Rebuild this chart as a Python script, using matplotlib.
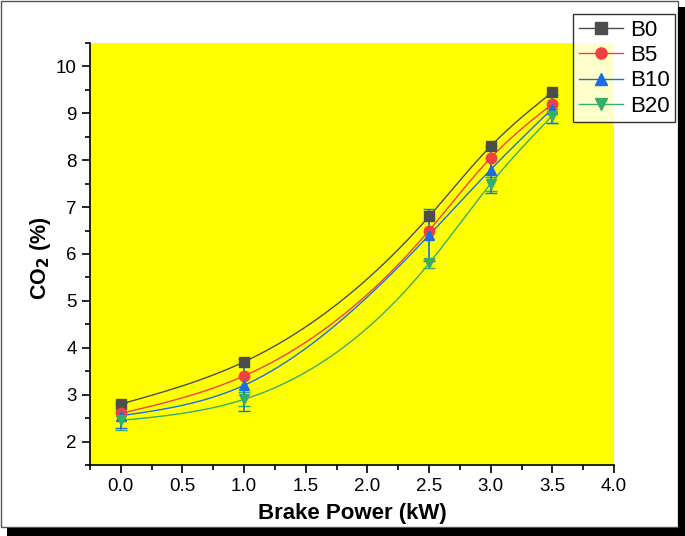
import numpy as np
import matplotlib.pyplot as plt
from matplotlib.patches import Rectangle
from matplotlib.ticker import MultipleLocator

plt.rcParams['font.family'] = ['Liberation Sans', 'DejaVu Sans']

power = [0.0, 1.0, 2.5, 3.0, 3.5]
b0 = [2.8, 3.7, 6.8, 8.3, 9.45]
b5 = [2.6, 3.4, 6.5, 8.05, 9.2]
b10 = [2.55, 3.2, 6.4, 7.8, 9.1]
b20 = [2.45, 2.9, 5.8, 7.5, 8.95]
b10_err = [0.27, 0.55, 0.55, 0.5, 0.3]
b20_err = [0.2, 0.15, 0.1, 0.15, 0.15]
labels = ['B0', 'B5', 'B10', 'B20']


def natural_spline(x, y, n=200):
    # natural cubic spline through the data points (smooth connecting line)
    x = np.asarray(x, float)
    y = np.asarray(y, float)
    k = len(x)
    h = np.diff(x)
    A = np.zeros((k, k))
    r = np.zeros(k)
    A[0, 0] = A[-1, -1] = 1
    for i in range(1, k - 1):
        A[i, i - 1] = h[i - 1]
        A[i, i] = 2 * (h[i - 1] + h[i])
        A[i, i + 1] = h[i]
        r[i] = 6 * ((y[i + 1] - y[i]) / h[i] - (y[i] - y[i - 1]) / h[i - 1])
    m = np.linalg.solve(A, r)
    xs = np.linspace(x[0], x[-1], n)
    idx = np.clip(np.searchsorted(x, xs) - 1, 0, k - 2)
    x0, x1 = x[idx], x[idx + 1]
    hh = x1 - x0
    t0, t1 = x1 - xs, xs - x0
    ys = (m[idx] * t0**3 + m[idx + 1] * t1**3) / (6 * hh) \
        + (y[idx] / hh - m[idx] * hh / 6) * t0 \
        + (y[idx + 1] / hh - m[idx + 1] * hh / 6) * t1
    return xs, ys


fig = plt.figure(figsize=(6.85, 5.36), dpi=100)
ax = fig.add_axes([90 / 685, 1 - 465 / 536, (614 - 90) / 685, (465 - 43) / 536])
ax.set_facecolor('#ffff00')

colors = ['#4d4d4d', '#f14040', '#1a6fdf', '#37ad6b']
markers = ['s', 'o', '^', 'v']
series = [b0, b5, b10, b20]

for vals, c, mk, lab in zip(series, colors, markers, labels):
    xs, ys = natural_spline(power, vals)
    ax.plot(xs, ys, color=c, lw=1.0, zorder=3)

ax.errorbar(power, b20, yerr=b20_err, fmt='none', ecolor=colors[3], elinewidth=1.2, capsize=4, zorder=4)
ax.errorbar(power, b10, yerr=b10_err, fmt='none', ecolor=colors[2], elinewidth=1.2, capsize=4, zorder=4)

for vals, c, mk, lab in zip(series, colors, markers, labels):
    ax.plot(power, vals, linestyle='none', marker=mk, color=c, markersize=7.5, zorder=5)

handles = [plt.Line2D([], [], color=c, marker=mk, markersize=8, lw=1.0)
           for c, mk in zip(colors, markers)]
leg = fig.legend(handles, labels, loc='upper left', bbox_to_anchor=(573 / 685, 1 - 14 / 536),
                 frameon=True, fancybox=False, edgecolor='black', fontsize=16,
                 handlelength=2.0, handletextpad=0.3, borderpad=0.25, labelspacing=0.2,
                 borderaxespad=0)
leg.get_frame().set_linewidth(1.0)
leg.set_zorder(10)

ax.set_xlim(-0.25, 4.0)
ax.set_ylim(1.5, 10.5)
ax.xaxis.set_major_locator(MultipleLocator(0.5))
ax.xaxis.set_minor_locator(MultipleLocator(0.25))
ax.yaxis.set_major_locator(MultipleLocator(1))
ax.yaxis.set_minor_locator(MultipleLocator(0.5))
ax.xaxis.set_major_formatter(plt.FormatStrFormatter('%.1f'))
ax.spines['top'].set_visible(False)
ax.spines['right'].set_visible(False)
ax.spines['left'].set_linewidth(1.2)
ax.spines['bottom'].set_linewidth(1.2)
ax.tick_params(which='major', direction='out', length=6, width=1.2, labelsize=13.5)
ax.tick_params(which='minor', direction='out', length=3.5, width=1.2)

ax.set_xlabel('Brake Power (kW)', fontsize=16, fontweight='bold')
ax.set_ylabel('CO$_\\mathbf{2}$ (%)', fontsize=15.5, fontweight='bold')
ax.xaxis.set_label_coords(0.5, -(503 - 465) / 422)
ax.yaxis.set_label_coords(-(90 - 53) / 524, 0.49)

# outer frame with shadow
fig.patches.append(Rectangle((1 / 685, 1 - 527 / 536), 677 / 685, 526 / 536, transform=fig.transFigure,
                             fill=False, edgecolor='#555555', lw=1.0, zorder=0))
fig.patches.append(Rectangle((678 / 685, 0), 7 / 685, 1 - 7 / 536, transform=fig.transFigure,
                             facecolor='black', edgecolor='none'))
fig.patches.append(Rectangle((7 / 685, 0), 678 / 685, 8 / 536, transform=fig.transFigure,
                             facecolor='black', edgecolor='none'))

fig.savefig('out.png', dpi=100)
